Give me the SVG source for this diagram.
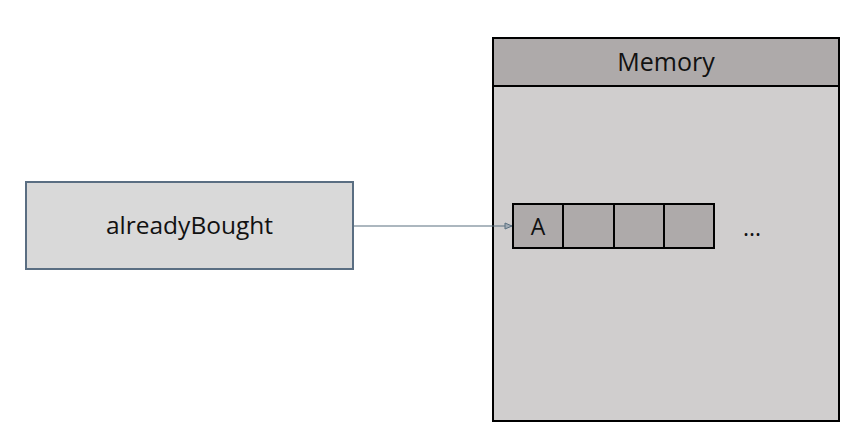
<svg xmlns="http://www.w3.org/2000/svg" width="861" height="442" viewBox="0 0 861 442">
<style>
text{font-family:"Open Sans","Liberation Sans",sans-serif;fill:#111}
.cell{fill:#aeaaaa;stroke:#000;stroke-width:2}
</style>
<defs>
<marker id="arr" markerWidth="10" markerHeight="10" refX="8" refY="4" orient="auto" markerUnits="userSpaceOnUse">
<path d="M1,1 L8,4 L1,7 Z" fill="#a0aab4" stroke="#5a7080" stroke-width="1"/>
</marker>
</defs>
<rect width="861" height="442" fill="#fff"/>
<g id="memory">
<rect x="493" y="38" width="346" height="383" fill="#d0cece" stroke="#000" stroke-width="2"/>
<rect x="493" y="38" width="346" height="48" fill="#aeaaaa" stroke="#000" stroke-width="2"/>
<text x="666" y="71" font-size="25" text-anchor="middle">Memory</text>
</g>
<g id="array">
<rect class="cell" x="513" y="204" width="50" height="44"/>
<rect class="cell" x="563" y="204" width="51" height="44"/>
<rect class="cell" x="614" y="204" width="50" height="44"/>
<rect class="cell" x="664" y="204" width="50" height="44"/>
<text x="538" y="235" font-size="23" text-anchor="middle">A</text>
<text x="752" y="236" font-size="23" text-anchor="middle">...</text>
</g>
<g id="alreadyBought">
<rect x="26" y="182" width="327" height="87" fill="#d9d9d9" stroke="#5a6e82" stroke-width="2"/>
<text x="189.5" y="234" font-size="24.5" text-anchor="middle">alreadyBought</text>
</g>
<g id="connectors">
<line x1="353" y1="226" x2="512" y2="226" stroke="#5a7080" stroke-width="1.2" marker-end="url(#arr)"/>
</g>
</svg>
